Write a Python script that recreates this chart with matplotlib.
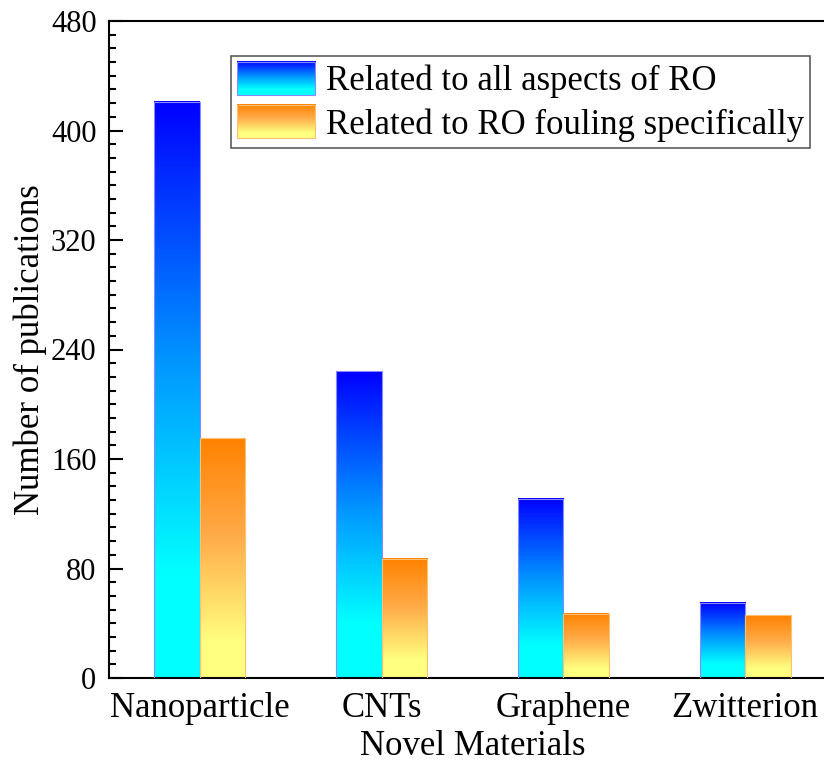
import matplotlib
matplotlib.use("Agg")
import matplotlib.pyplot as plt
import numpy as np
from matplotlib.colors import LinearSegmentedColormap
from matplotlib.legend_handler import HandlerBase
from matplotlib.image import BboxImage
from matplotlib.transforms import Bbox, TransformedBbox
from matplotlib.patches import Rectangle
from matplotlib.ticker import MultipleLocator

plt.rcParams["font.family"] = ["Liberation Serif", "DejaVu Serif"]

categories = ["Nanoparticle", "CNTs", "Graphene", "Zwitterion"]
all_ro = [421, 224, 131, 55]
fouling = [175, 87, 47, 46]
labels = ["Related to all aspects of RO", "Related to RO fouling specifically"]

# gradients run bottom -> top
cmap_blue = LinearSegmentedColormap.from_list(
    "blue", [(0, "#00ffff"), (0.18, "#00ffff"), (0.55, "#0096ff"), (1, "#0000ff")])
cmap_orange = LinearSegmentedColormap.from_list(
    "orange", [(0, "#ffff80"), (0.15, "#ffff80"), (0.6, "#ffaa48"), (1, "#ff8200")])
grad = np.linspace(0, 1, 256).reshape(-1, 1)


class GradientHandler(HandlerBase):
    def __init__(self, cmap, edge):
        super().__init__()
        self.cmap = cmap
        self.edge = edge

    def create_artists(self, legend, orig_handle, xdescent, ydescent,
                       width, height, fontsize, trans):
        bb = TransformedBbox(Bbox.from_bounds(-xdescent, -ydescent, width, height), trans)
        img = BboxImage(bb, cmap=self.cmap, interpolation="bilinear", origin="lower")
        img.set_data(grad)
        rect = Rectangle((-xdescent, -ydescent), width, height, fill=False,
                         edgecolor=self.edge, linewidth=0.8, transform=trans)
        return [img, rect]


fig = plt.figure(figsize=(8.24, 7.64), dpi=100)
ax = fig.add_axes([109 / 824, 86 / 764, 727 / 824, 657 / 764])

x = np.arange(len(categories))
w = 0.25
series = [(all_ro, -w / 2, cmap_blue, "#8a8aff"), (fouling, w / 2, cmap_orange, "#ffc070")]
handles = []
for vals, off, cmap, edge in series:
    bars = ax.bar(x + off, vals, width=w, facecolor="none", edgecolor=edge,
                  linewidth=0.8, zorder=3)
    handles.append(bars[0])
    for b in bars:
        x0, y0 = b.get_x(), b.get_y()
        ax.imshow(grad, extent=[x0, x0 + b.get_width(), y0, y0 + b.get_height()],
                  origin="lower", cmap=cmap, aspect="auto", zorder=2,
                  interpolation="bilinear")

ax.set_xlim(-0.5, 3.5)
ax.set_ylim(0, 480)
ax.set_xticks(x)
ax.set_xticklabels(categories)
ax.yaxis.set_major_locator(MultipleLocator(80))
ax.yaxis.set_minor_locator(MultipleLocator(10))
ax.tick_params(axis="y", which="major", direction="in", length=10, width=1.5,
               labelsize=22, pad=9)
ax.tick_params(axis="y", which="minor", direction="in", length=5, width=1.5)
ax.tick_params(axis="x", length=0, labelsize=25, pad=10)
ax.tick_params(axis="y", right=False)
for s in ["left", "bottom", "top"]:
    ax.spines[s].set_linewidth(1.5)
ax.spines["right"].set_visible(False)

ax.set_ylabel("Number of publications", fontsize=25, labelpad=3)
ax.set_xlabel("Novel Materials", fontsize=25, labelpad=4)

leg = ax.legend(handles, labels, loc="upper left", bbox_to_anchor=(0.168, 0.947),
                fontsize=25, frameon=True, fancybox=False, edgecolor="#333333",
                handlelength=2.25, handleheight=1.1, handletextpad=0.3,
                labelspacing=0.2, borderpad=0.17, borderaxespad=0,
                handler_map={handles[0]: GradientHandler(cmap_blue, "#8a8aff"),
                             handles[1]: GradientHandler(cmap_orange, "#ffc070")})
leg.get_frame().set_linewidth(1.2)

fig.savefig("out.png", dpi=100)
